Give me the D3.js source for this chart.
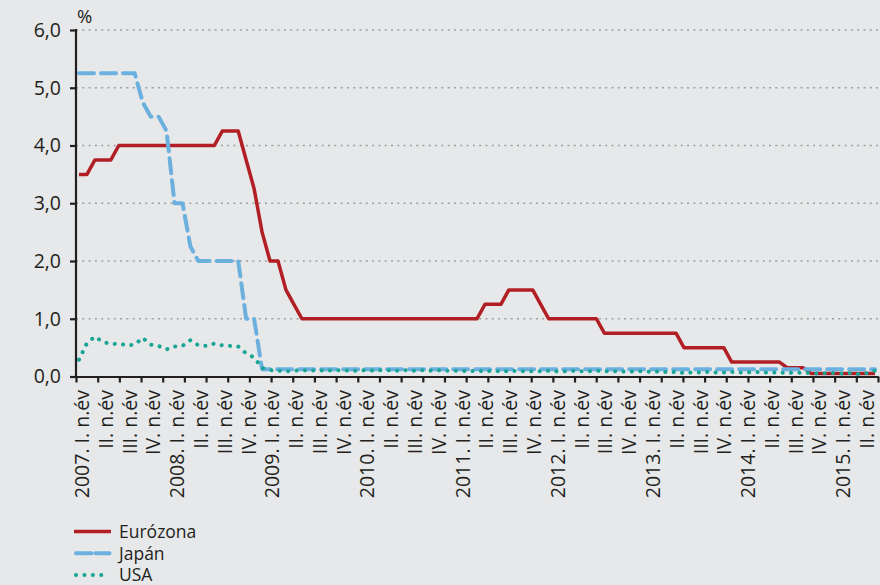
<!DOCTYPE html>
<html>
<head>
<meta charset="utf-8">
<script src="https://cdn.jsdelivr.net/npm/d3@7"></script>
<style>
  body { margin: 0; background: #e7e8e9; }
  svg { display: block; }
  text { font-family: "Open Sans", "Noto Sans", sans-serif; fill: #231f20; }
</style>
</head>
<body>
<svg id="chart" width="880" height="585"></svg>
<script>

// monthly values, 2007 jan - 2015 may
var euroRate = [
    3.5, 3.5, 3.75, 3.75, 3.75, 4, 4, 4, 4, 4, 4, 4,
    4, 4, 4, 4, 4, 4, 4.25, 4.25, 4.25, 3.75, 3.25, 2.5,
    2, 2, 1.5, 1.25, 1, 1, 1, 1, 1, 1, 1, 1,
    1, 1, 1, 1, 1, 1, 1, 1, 1, 1, 1, 1,
    1, 1, 1, 1.25, 1.25, 1.25, 1.5, 1.5, 1.5, 1.5, 1.25, 1,
    1, 1, 1, 1, 1, 1, 0.75, 0.75, 0.75, 0.75, 0.75, 0.75,
    0.75, 0.75, 0.75, 0.75, 0.5, 0.5, 0.5, 0.5, 0.5, 0.5, 0.25, 0.25,
    0.25, 0.25, 0.25, 0.25, 0.25, 0.15, 0.15, 0.15, 0.05, 0.05, 0.05, 0.05,
    0.05, 0.05, 0.05, 0.05, 0.05
];

var japanRate = [
    5.25, 5.25, 5.25, 5.25, 5.25, 5.25, 5.25, 5.25, 4.75, 4.5, 4.5, 4.25,
    3, 3, 2.25, 2, 2, 2, 2, 2, 2, 1, 1, 0.125,
    0.125, 0.125, 0.125, 0.125, 0.125, 0.125, 0.125, 0.125, 0.125, 0.125, 0.125, 0.125,
    0.125, 0.125, 0.125, 0.125, 0.125, 0.125, 0.125, 0.125, 0.125, 0.125, 0.125, 0.125,
    0.125, 0.125, 0.125, 0.125, 0.125, 0.125, 0.125, 0.125, 0.125, 0.125, 0.125, 0.125,
    0.125, 0.125, 0.125, 0.125, 0.125, 0.125, 0.125, 0.125, 0.125, 0.125, 0.125, 0.125,
    0.125, 0.125, 0.125, 0.125, 0.125, 0.125, 0.125, 0.125, 0.125, 0.125, 0.125, 0.125,
    0.125, 0.125, 0.125, 0.125, 0.125, 0.125, 0.125, 0.125, 0.125, 0.125, 0.125, 0.125,
    0.125, 0.125, 0.125, 0.125, 0.125
];

var usaRate = [
    0.29, 0.58, 0.69, 0.60, 0.56, 0.57, 0.54, 0.55, 0.67, 0.55, 0.53, 0.47,
    0.52, 0.53, 0.63, 0.54, 0.53, 0.57, 0.54, 0.53, 0.52, 0.40, 0.33, 0.15,
    0.11, 0.10, 0.09, 0.10, 0.11, 0.10, 0.11, 0.10, 0.11, 0.11, 0.10, 0.10,
    0.11, 0.10, 0.11, 0.11, 0.10, 0.11, 0.10, 0.11, 0.10, 0.11, 0.10, 0.10,
    0.10, 0.09, 0.10, 0.09, 0.10, 0.09, 0.09, 0.10, 0.09, 0.09, 0.09, 0.10,
    0.09, 0.09, 0.10, 0.09, 0.09, 0.10, 0.09, 0.09, 0.09, 0.08, 0.09, 0.09,
    0.08, 0.09, 0.07, 0.08, 0.06, 0.07, 0.07, 0.08, 0.07, 0.07, 0.08, 0.07,
    0.07, 0.08, 0.07, 0.07, 0.07, 0.06, 0.07, 0.06, 0.06, 0.05, 0.06, 0.06,
    0.05, 0.06, 0.04, 0.06, 0.10
];

var quarterLabels = [
    "2007. I. n.év", "II. n.év", "III. n.év", "IV. n.év",
    "2008. I. n.év", "II. n.év", "III. n.év", "IV. n.év",
    "2009. I. n.év", "II. n.év", "III. n.év", "IV. n.év",
    "2010. I. n.év", "II. n.év", "III. n.év", "IV. n.év",
    "2011. I. n.év", "II. n.év", "III. n.év", "IV. n.év",
    "2012. I. n.év", "II. n.év", "III. n.év", "IV. n.év",
    "2013. I. n.év", "II. n.év", "III. n.év", "IV. n.év",
    "2014. I. n.év", "II. n.év", "III. n.év", "IV. n.év",
    "2015. I. n.év", "II. n.év"
];

var yTicks = [0, 1, 2, 3, 4, 5, 6];

var seriesList = [
    {name: "Eurózona", values: euroRate, color: "#b11f24", width: 3.5, dash: null, cap: "butt"},
    {name: "Japán", values: japanRate, color: "#6cb0df", width: 4, dash: "15,7", cap: "round"},
    {name: "USA", values: usaRate, color: "#18a596", width: 4, dash: "0.1,8.3", cap: "round"}
];

var svg = d3.select("#chart");

svg.append("rect")
    .attr("width", 880)
    .attr("height", 585)
    .attr("fill", "#e7e8e9");

var plotLeft = 76, plotRight = 878, plotTop = 30, plotBottom = 376.5;

var x = d3.scaleLinear().domain([0, 100]).range([79, 875]);
var y = d3.scaleLinear().domain([0, 6]).range([plotBottom, plotTop]);

// tick marks on the category axis (not aligned with the labels in the original)
var tickScale = d3.scalePoint().domain(d3.range(38)).range([plotLeft, plotRight]);
// one label per quarter
var labelScale = d3.scalePoint().domain(d3.range(quarterLabels.length)).range([82, 867]);

// gridlines
svg.append("g")
    .selectAll("line")
    .data(yTicks.filter(d => d > 0))
    .enter().append("line")
    .attr("x1", plotLeft)
    .attr("x2", plotRight)
    .attr("y1", d => y(d))
    .attr("y2", d => y(d))
    .attr("stroke", "#9e9e9e")
    .attr("stroke-width", 1.4)
    .attr("stroke-dasharray", "2,4.3");

// series
var line = d3.line()
    .x((d, i) => x(i))
    .y(d => y(d));

seriesList.forEach(function(s) {
    var p = svg.append("path")
        .datum(s.values)
        .attr("fill", "none")
        .attr("stroke", s.color)
        .attr("stroke-width", s.width)
        .attr("stroke-linejoin", "round")
        .attr("stroke-linecap", s.cap)
        .attr("d", line);
    if (s.dash) p.attr("stroke-dasharray", s.dash);
});

// y axis
var yAxis = d3.axisLeft(y)
    .tickValues(yTicks)
    .tickFormat(d => d3.format(".1f")(d).replace(".", ","))
    .tickSize(6)
    .tickPadding(9);

var gy = svg.append("g")
    .attr("transform", "translate(" + plotLeft + ",0)")
    .call(yAxis);
gy.select(".domain").remove();
gy.append("line")
    .attr("x1", 0).attr("x2", 0)
    .attr("y1", plotTop - 1).attr("y2", plotBottom + 1)
    .attr("stroke", "#231f20")
    .attr("stroke-width", 2.2);
gy.selectAll(".tick line").attr("stroke", "#231f20").attr("stroke-width", 2.2);
gy.selectAll(".tick text")
    .attr("fill", "#231f20")
    .style("font-size", "19.5px")
    .style("font-family", "'Open Sans', sans-serif");

// x axis
var xAxis = d3.axisBottom(tickScale)
    .tickFormat("")
    .tickSize(6)
    .tickSizeOuter(0);

var gx = svg.append("g")
    .attr("transform", "translate(0," + plotBottom + ")")
    .call(xAxis);
gx.select(".domain").attr("stroke", "#231f20").attr("stroke-width", 2.2);
gx.selectAll(".tick line").attr("stroke", "#231f20").attr("stroke-width", 2.2);

svg.append("g")
    .selectAll("text")
    .data(quarterLabels)
    .enter().append("text")
    .attr("transform", (d, i) => "translate(" + labelScale(i) + ",390) rotate(-90)")
    .attr("text-anchor", "end")
    .attr("dy", "0.36em")
    .style("font-size", "19.5px")
    .text(d => d);

// unit
svg.append("text")
    .attr("x", 77)
    .attr("y", 23)
    .style("font-size", "18.5px")
    .text("%");

// legend
var legend = svg.append("g");
seriesList.forEach(function(s, i) {
    var ly = 531.5 + i * 21.7;
    var l = legend.append("line")
        .attr("x1", s.cap == "round" ? 76 : 74)
        .attr("x2", s.cap == "round" ? 109.5 : 111)
        .attr("y1", ly)
        .attr("y2", ly)
        .attr("stroke", s.color)
        .attr("stroke-width", s.width)
        .attr("stroke-linecap", s.cap);
    if (s.dash) l.attr("stroke-dasharray", i == 1 ? "15.5,4" : "0.1,8.3");
    legend.append("text")
        .attr("x", 119)
        .attr("y", ly)
        .attr("dy", "0.36em")
        .style("font-size", "17.5px")
        .text(s.name);
});

</script>
</body>
</html>
